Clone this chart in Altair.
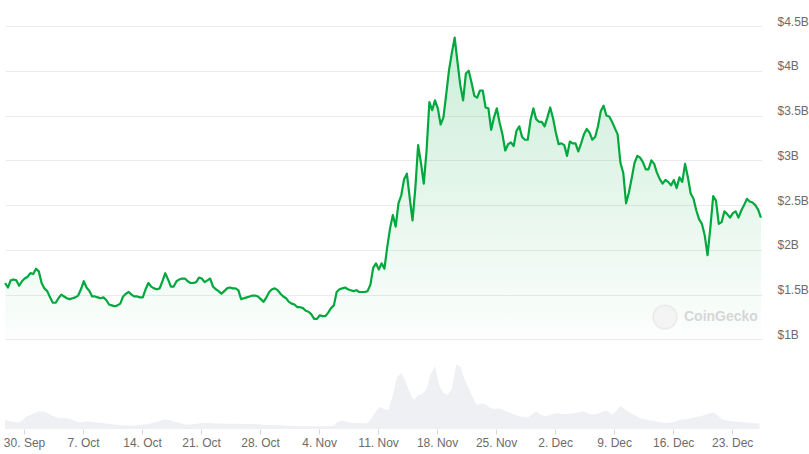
import altair as alt
import pandas as pd

# Market cap (billions USD), one reading every 8 hours from 27 Sep 2024 18:00
mcap_start = "2024-09-27 18:00"
mcap_b = [
    1.63, 1.58, 1.66, 1.67, 1.66, 1.60, 1.65, 1.68, 1.70, 1.74,
    1.73, 1.79, 1.76, 1.63, 1.57, 1.54, 1.47, 1.41, 1.41, 1.46,
    1.50, 1.48, 1.46, 1.45, 1.46, 1.47, 1.49, 1.56, 1.65, 1.58,
    1.54, 1.48, 1.48, 1.47, 1.46, 1.47, 1.44, 1.39, 1.38, 1.37,
    1.38, 1.40, 1.48, 1.51, 1.53, 1.50, 1.48, 1.48, 1.47, 1.47,
    1.56, 1.63, 1.59, 1.57, 1.56, 1.57, 1.65, 1.74, 1.67, 1.59,
    1.59, 1.65, 1.67, 1.68, 1.68, 1.65, 1.63, 1.63, 1.64, 1.69,
    1.68, 1.64, 1.66, 1.68, 1.59, 1.56, 1.54, 1.51, 1.54, 1.57,
    1.58, 1.57, 1.57, 1.55, 1.45, 1.46, 1.47, 1.48, 1.49, 1.49,
    1.48, 1.45, 1.42, 1.47, 1.53, 1.56, 1.57, 1.55, 1.51, 1.48,
    1.46, 1.42, 1.40, 1.39, 1.36, 1.36, 1.35, 1.32, 1.31, 1.28,
    1.23, 1.23, 1.27, 1.26, 1.26, 1.30, 1.35, 1.38, 1.53, 1.56,
    1.57, 1.58, 1.56, 1.55, 1.54, 1.55, 1.53, 1.53, 1.53, 1.54,
    1.61, 1.80, 1.85, 1.78, 1.85, 1.79, 2.03, 2.24, 2.39, 2.26,
    2.52, 2.61, 2.79, 2.85, 2.58, 2.33, 2.69, 3.17, 2.97, 2.74,
    3.11, 3.65, 3.56, 3.67, 3.58, 3.40, 3.48, 3.74, 4.01, 4.20,
    4.37, 4.10, 3.84, 3.67, 3.97, 4.00, 3.87, 3.72, 3.70, 3.78,
    3.78, 3.59, 3.58, 3.34, 3.48, 3.58, 3.42, 3.29, 3.11, 3.18,
    3.20, 3.16, 3.33, 3.38, 3.26, 3.23, 3.23, 3.45, 3.58, 3.46,
    3.43, 3.43, 3.38, 3.48, 3.59, 3.47, 3.31, 3.18, 3.19, 3.17,
    3.05, 3.21, 3.19, 3.19, 3.10, 3.19, 3.29, 3.35, 3.31, 3.23,
    3.26, 3.38, 3.55, 3.61, 3.50, 3.49, 3.43, 3.36, 3.29, 2.97,
    2.86, 2.52, 2.64, 2.80, 2.97, 3.05, 3.03, 2.98, 2.90, 2.90,
    3.00, 2.96, 2.86, 2.79, 2.74, 2.78, 2.76, 2.72, 2.78, 2.69,
    2.81, 2.76, 2.96, 2.81, 2.63, 2.57, 2.44, 2.34, 2.29, 2.16,
    1.94, 2.25, 2.60, 2.55, 2.29, 2.31, 2.43, 2.40, 2.36, 2.41,
    2.43, 2.36, 2.44, 2.50, 2.57, 2.54, 2.53, 2.50, 2.45, 2.36,
]

# Trading volume (millions USD), one reading every 12 hours
vol_start = "2024-09-27 18:00"
vol_m = [
    90, 80, 70, 65, 80, 125, 140, 160, 175, 175,
    160, 135, 120, 110, 110, 105, 90, 75, 65, 75,
    75, 70, 65, 60, 55, 50, 45, 40, 35, 35,
    33, 35, 40, 45, 50, 60, 70, 85, 95, 90,
    75, 65, 55, 45, 45, 50, 55, 60, 60, 58,
    56, 55, 54, 53, 53, 52, 50, 50, 50, 50,
    47, 43, 42, 40, 40, 38, 35, 33, 30, 30,
    30, 29, 28, 27, 28, 30, 30, 30, 35, 75,
    85, 70, 63, 60, 60, 55, 60, 110, 180, 225,
    195, 195, 340, 520, 560, 480, 360, 290, 340, 350,
    400, 550, 630, 440, 360, 340, 400, 640, 630, 500,
    410, 310, 240, 255, 245, 215, 200, 205, 195, 175,
    160, 140, 130, 120, 115, 145, 175, 145, 130, 135,
    150, 160, 150, 150, 153, 158, 165, 175, 165, 145,
    145, 160, 180, 180, 145, 180, 230, 200, 170, 145,
    125, 105, 95, 85, 80, 70, 65, 60, 65, 75,
    90, 95, 100, 110, 120, 127, 140, 155, 165, 140,
    100, 87, 80, 76, 72, 68, 64, 60, 57, 55,
]

y_ticks = [1, 1.5, 2, 2.5, 3, 3.5, 4, 4.5]
x_tick_days = [(9, 30), (10, 7), (10, 14), (10, 21), (10, 28), (11, 4), (11, 11),
               (11, 18), (11, 25), (12, 2), (12, 9), (12, 16), (12, 23)]

mcap_df = pd.DataFrame({
    "time": pd.date_range(mcap_start, periods=len(mcap_b), freq="8h"),
    "mcap": mcap_b,
})
vol_df = pd.DataFrame({
    "time": pd.date_range(vol_start, periods=len(vol_m), freq="12h"),
    "vol": vol_m,
})

GREEN = "#00a83e"

x_enc = alt.X(
    "time:T",
    title=None,
    scale=alt.Scale(domain=[
        alt.DateTime(year=2024, month=9, date=27, hours=17, minutes=45),
        alt.DateTime(year=2024, month=12, date=26, hours=13),
    ]),
    axis=alt.Axis(
        values=[alt.DateTime(year=2024, month=m, date=d) for m, d in x_tick_days],
        format="%-d. %b",
        domain=False,
        grid=False,
        ticks=True,
        tickColor="#d6d6d6",
        tickSize=5,
        labelPadding=3,
    ),
)

volume = alt.Chart(vol_df).mark_area(color="#eef0f4", interpolate="linear").encode(
    x=x_enc,
    y=alt.Y("vol:Q", scale=alt.Scale(domain=[0, 4030]), axis=None),
)

area = alt.Chart(mcap_df).mark_area(
    color=alt.Gradient(
        gradient="linear",
        stops=[
            alt.GradientStop(color="rgba(0,168,62,0.20)", offset=0),
            alt.GradientStop(color="rgba(0,168,62,0.01)", offset=1),
        ],
        x1=0, x2=0, y1=0, y2=1,
    )
).encode(
    x=x_enc,
    y=alt.Y("mcap:Q", scale=alt.Scale(domain=[0, 4.5]), axis=None),
    y2=alt.datum(1.0),
)

line = alt.Chart(mcap_df).mark_line(color=GREEN, strokeWidth=2.2, strokeJoin="round").encode(
    x=x_enc,
    y=alt.Y(
        "mcap:Q",
        scale=alt.Scale(domain=[0, 4.5]),
        axis=alt.Axis(
            orient="right",
            values=y_ticks,
            labelExpr="'$' + datum.value + 'B'",
            grid=True,
            gridColor="#ebebeb",
            ticks=False,
            domain=False,
            labelPadding=15,
            labelBaseline="alphabetic",
            labelOffset=-1,
            title=None,
        ),
    ),
)

wm_df = pd.DataFrame({"label": ["CoinGecko"]})
logo = alt.Chart(wm_df).mark_point(
    shape="circle", filled=True, size=560, color="#f1f1f1", stroke="#e3e3e3", strokeWidth=1.5
).encode(x=alt.value(660), y=alt.value(291))
wm_text = alt.Chart(wm_df).mark_text(
    align="left", baseline="middle", fontSize=14, fontWeight=600, color="#d6d6d6",
    font="Liberation Sans",
).encode(x=alt.value(679), y=alt.value(291), text="label:N")

chart = alt.layer(volume, area, line, logo, wm_text).resolve_scale(
    y="independent"
).properties(
    width=757,
    height=403,
    autosize=alt.AutoSizeParams(type="none"),
    padding={"left": 5, "top": 26, "right": 47, "bottom": 25},
).configure_view(stroke=None).configure_axis(
    labelFont="Liberation Sans", labelFontSize=12, labelColor="#6b6b6b"
)

chart.save("out.html", embed_options={"renderer": "svg", "actions": False})
